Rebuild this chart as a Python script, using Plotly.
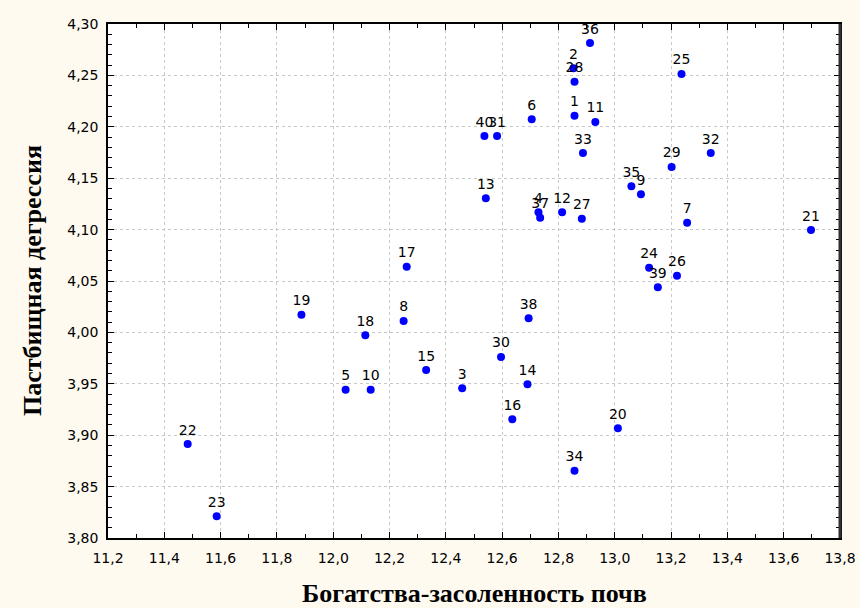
import plotly.graph_objects as go

labels = [str(i) for i in range(1, 41)]
x_vals = [12.857, 12.853, 12.458, 12.729, 12.044, 12.705, 13.257, 12.250, 13.093, 12.133,
          12.931, 12.813, 12.542, 12.690, 12.330, 12.636, 12.261, 12.114, 11.887, 13.011,
          13.697, 11.483, 11.586, 13.122, 13.237, 13.221, 12.883, 12.857, 13.202, 12.596,
          12.582, 13.341, 12.887, 12.857, 13.059, 12.912, 12.735, 12.694, 13.153, 12.537]
y_vals = [4.2108, 4.2570, 3.9456, 4.1168, 3.9443, 4.2073, 4.1067, 4.0111, 4.1343, 3.9443,
          4.2047, 4.1168, 4.1304, 3.9495, 3.9634, 3.9155, 4.0639, 3.9972, 4.0172, 3.9067,
          4.0996, 3.8914, 3.8211, 4.0629, 4.2514, 4.0552, 4.1106, 4.2439, 4.1610, 3.9761,
          4.1910, 4.1745, 4.1745, 3.8655, 4.1421, 4.2815, 4.1116, 4.0137, 4.0439, 4.1910]

x_title = "Богатства-засоленность почв"
y_title = "Пастбищная дегрессия"

fig = go.Figure(go.Scatter(
    x=x_vals, y=y_vals, mode="markers+text", text=labels,
    textposition="top center",
    textfont=dict(family="DejaVu Sans", size=14, color="black"),
    marker=dict(color="#0000FF", size=8),
    cliponaxis=False,
))

axis_common = dict(
    showline=True, linecolor="black", linewidth=1.5, mirror="allticks",
    ticks="inside", ticklen=6, tickcolor="black", tickwidth=1,
    showgrid=True, gridcolor="#c8c8c8", griddash="dot", gridwidth=1,
    zeroline=False, automargin=False, ticklabeloverflow="allow",
    tickfont=dict(family="DejaVu Sans", size=14, color="black"),
)

title_font = dict(family="Liberation Serif, Times New Roman", size=26, color="black", weight="bold")

fig.update_xaxes(range=[11.2, 13.8], dtick=0.2, tick0=11.2, tickformat=".1f",
                 ticklabelstandoff=6,
                 minor=dict(dtick=0.1, ticks="inside", ticklen=4, tickcolor="black", showgrid=False),
                 **axis_common)
fig.update_yaxes(range=[3.8, 4.3], dtick=0.05, tick0=3.8, tickformat=".2f",
                 ticklabelstandoff=5,
                 minor=dict(dtick=0.01, ticks="inside", ticklen=4, tickcolor="black", showgrid=False),
                 **axis_common)

fig.add_shape(type="line", xref="paper", yref="paper", x0=1, x1=1, y0=0, y1=1,
              line=dict(color="#303030", width=3))

fig.add_annotation(text=x_title, xref="paper", yref="paper", x=0.5, y=0,
                   xanchor="center", yanchor="middle", yshift=-55,
                   showarrow=False, font=title_font)
fig.add_annotation(text=y_title, xref="paper", yref="paper", x=0, y=0.5,
                   xanchor="center", yanchor="middle", xshift=-76, textangle=-90,
                   showarrow=False, font=title_font)

fig.update_layout(
    width=860, height=608,
    margin=dict(l=108, r=20, t=24, b=70),
    paper_bgcolor="#FFFAF0", plot_bgcolor="white",
    separators=", ",
    showlegend=False,
)

fig.write_html("out.html",
               config={"displayModeBar": False},
               post_script="document.body.style.margin='0';document.body.style.overflow='hidden';")
